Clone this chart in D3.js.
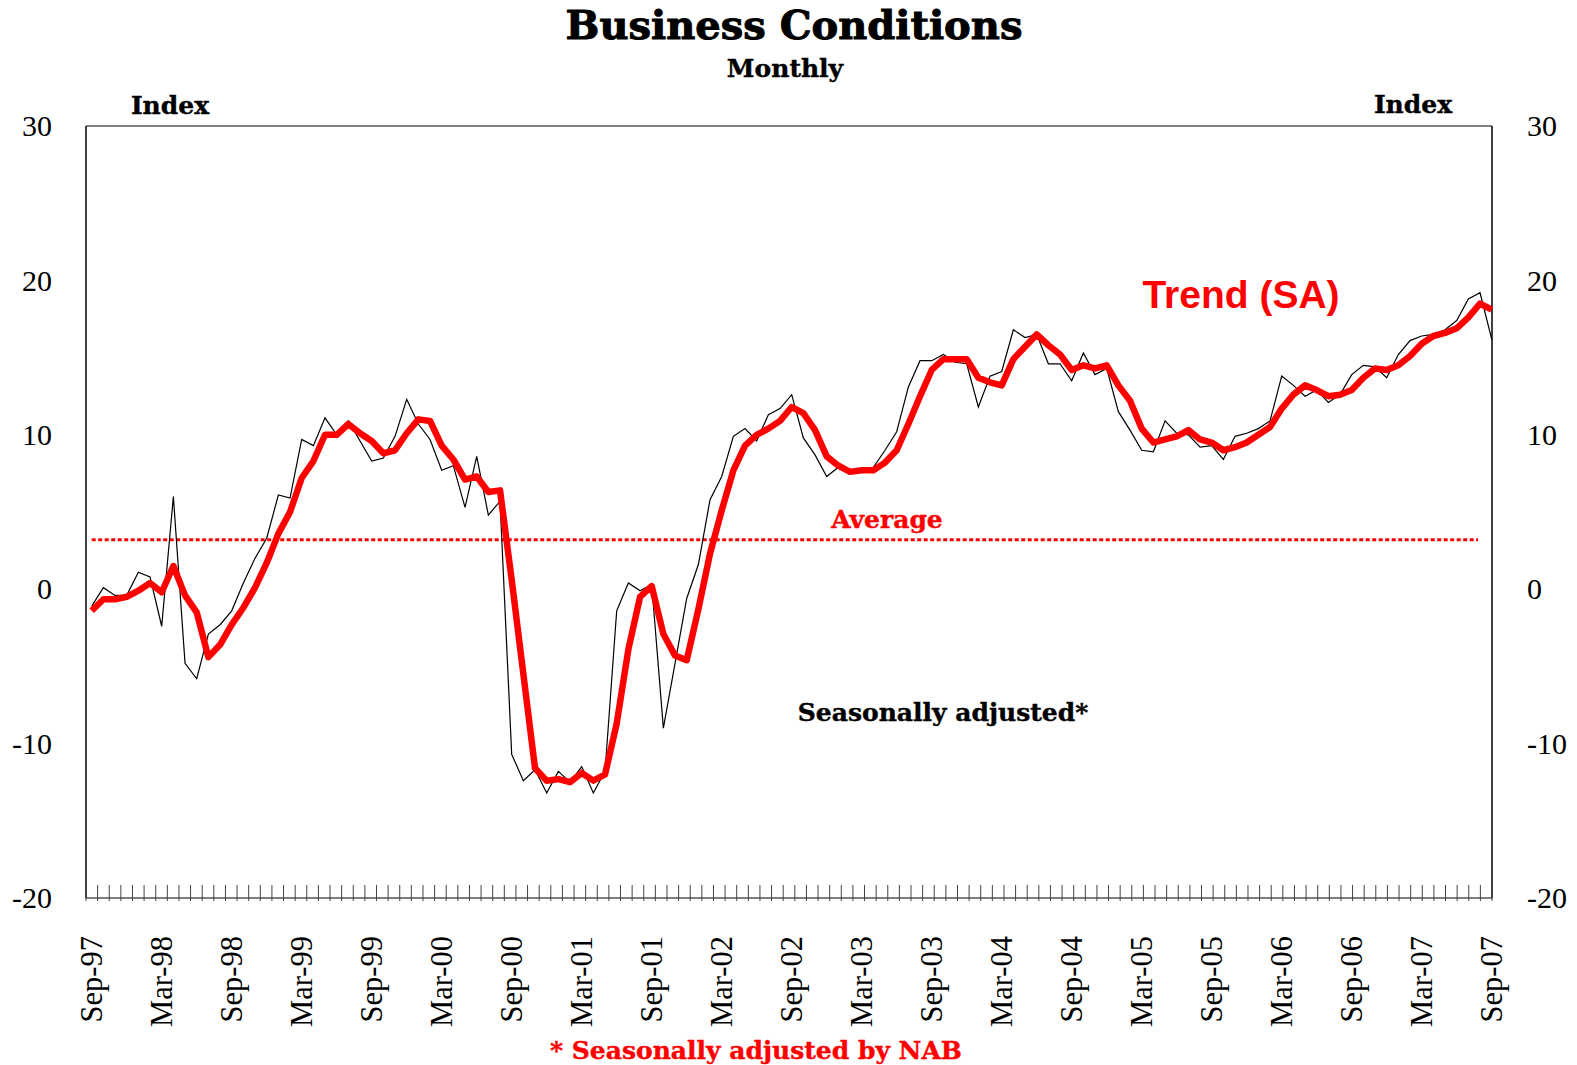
<!DOCTYPE html>
<html>
<head>
<meta charset="utf-8">
<script src="https://cdn.jsdelivr.net/npm/d3@7"></script>
<style>
  body { margin: 0; background: #fff; }
  .slab { font-family: "DejaVu Serif", serif; font-weight: bold; }
  .tick text { font-family: "Liberation Serif", "Times New Roman", serif; }
</style>
</head>
<body>
<svg id="chart" width="1577" height="1065"></svg>
<script>
// monthly readings, Sep-97 .. Sep-07
var start_month = new Date(1997, 8, 1);

var trend = [
  -1.4, -0.65, -0.65, -0.5, -0.1, 0.4, -0.2, 1.5, -0.4, -1.5,
  -4.4, -3.6, -2.3, -1.2, 0.1, 1.7, 3.6, 5.0, 7.2, 8.3,
  10.0, 10.0, 10.7, 10.1, 9.6, 8.8, 9.0, 10.1, 11.0, 10.9,
  9.3, 8.4, 7.1, 7.3, 6.3, 6.4, 0.6, -5.5, -11.6, -12.4,
  -12.3, -12.5, -11.9, -12.4, -12.0, -8.7, -3.9, -0.5, 0.2, -2.9,
  -4.3, -4.6, -1.3, 2.3, 5.1, 7.7, 9.3, 10.0, 10.4, 10.9,
  11.8, 11.4, 10.3, 8.6, 8.0, 7.6, 7.7, 7.7, 8.2, 9.0,
  10.7, 12.5, 14.2, 14.9, 14.9, 14.9, 13.7, 13.4, 13.2, 14.9,
  15.7, 16.5, 15.8, 15.2, 14.2, 14.5, 14.3, 14.5, 13.2, 12.2,
  10.4, 9.5, 9.7, 9.9, 10.3, 9.7, 9.5, 9.0, 9.2, 9.5,
  10.0, 10.5, 11.7, 12.6, 13.2, 12.9, 12.5, 12.6, 12.9, 13.7,
  14.3, 14.2, 14.5, 15.1, 15.9, 16.4, 16.6, 16.9, 17.6, 18.5,
  18.1
];

var seasonal = [
  -1.1, 0.1, -0.4, -0.4, 1.1, 0.8, -2.4, 6.0, -4.8, -5.8,
  -2.9, -2.3, -1.4, 0.4, 2.0, 3.3, 6.1, 5.9, 9.7, 9.3,
  11.1, 10.0, 10.9, 9.6, 8.3, 8.5, 9.9, 12.3, 10.7, 9.7,
  7.7, 8.0, 5.3, 8.6, 4.8, 5.7, -10.7, -12.4, -11.7, -13.2,
  -11.8, -12.5, -11.5, -13.2, -11.8, -1.4, 0.4, -0.1, 0.3, -9.0,
  -4.8, -0.6, 1.6, 5.8, 7.3, 9.9, 10.4, 9.6, 11.3, 11.7,
  12.6, 9.8, 8.7, 7.3, 7.9, 7.7, 7.7, 7.9, 9.0, 10.2,
  13.1, 14.8, 14.8, 15.2, 14.7, 14.6, 11.8, 13.8, 14.1, 16.8,
  16.3, 16.5, 14.6, 14.6, 13.5, 15.3, 13.9, 14.3, 11.5, 10.3,
  9.0, 8.9, 10.9, 10.1, 10.0, 9.2, 9.3, 8.4, 9.9, 10.1,
  10.4, 10.9, 13.8, 13.2, 12.5, 12.9, 12.1, 12.6, 13.9, 14.5,
  14.4, 13.7, 15.2, 16.1, 16.4, 16.5, 16.8, 17.4, 18.8, 19.2,
  16.2
];

var average = 3.2;

var x_labels = ["Sep-97", "Mar-98", "Sep-98", "Mar-99", "Sep-99", "Mar-00", "Sep-00",
  "Mar-01", "Sep-01", "Mar-02", "Sep-02", "Mar-03", "Sep-03", "Mar-04", "Sep-04",
  "Mar-05", "Sep-05", "Mar-06", "Sep-06", "Mar-07", "Sep-07"];

var y_ticks = [-20, -10, 0, 10, 20, 30];

var months = d3.range(trend.length).map(function(i) { return d3.timeMonth.offset(start_month, i); });

var plot_left = 86, plot_right = 1492, plot_top = 126, plot_bottom = 898;

var svg = d3.select("#chart");

var x = d3.scalePoint().domain(d3.range(months.length)).range([91.7, 1491.7]);
var xband = d3.scaleBand().domain(d3.range(months.length)).range([plot_left, plot_right]);
var y = d3.scaleLinear().domain([-20, 30]).range([plot_bottom, plot_top]);

// frame
svg.append("line").attr("x1", plot_left).attr("x2", plot_right).attr("y1", plot_top).attr("y2", plot_top)
  .attr("stroke", "#555").attr("stroke-width", 1.5);
svg.append("line").attr("x1", plot_left).attr("x2", plot_right).attr("y1", plot_bottom).attr("y2", plot_bottom)
  .attr("stroke", "#555").attr("stroke-width", 1.5);
svg.append("line").attr("x1", plot_left).attr("x2", plot_left).attr("y1", plot_top).attr("y2", plot_bottom)
  .attr("stroke", "#000").attr("stroke-width", 1.5);
svg.append("line").attr("x1", plot_right).attr("x2", plot_right).attr("y1", plot_top).attr("y2", plot_bottom)
  .attr("stroke", "#000").attr("stroke-width", 1.5);

// month ticks
var tick_pos = months.map(function(d, i) { return xband(i); }).concat([plot_right]);
svg.append("g").selectAll("line")
  .data(tick_pos)
  .enter().append("line")
  .attr("x1", function(d) { return d; })
  .attr("x2", function(d) { return d; })
  .attr("y1", plot_bottom - 13)
  .attr("y2", plot_bottom + 3)
  .attr("stroke", "#444")
  .attr("stroke-width", 1);

// y axes, both sides (plain hyphen for minus, like the original)
var fmt = function(d) { return String(d); };
var yl = svg.append("g").attr("transform", "translate(" + plot_left + ",0)")
  .call(d3.axisLeft(y).tickValues(y_ticks).tickFormat(fmt).tickSize(0).tickPadding(34));
var yr = svg.append("g").attr("transform", "translate(" + plot_right + ",0)")
  .call(d3.axisRight(y).tickValues(y_ticks).tickFormat(fmt).tickSize(0).tickPadding(35));
[yl, yr].forEach(function(g) {
  g.select(".domain").remove();
  g.selectAll("text").attr("font-size", 30).attr("fill", "#000");
});

// x labels every 6 months
svg.append("g").selectAll("text")
  .data(x_labels)
  .enter().append("text")
  .attr("transform", function(d, i) { return "translate(" + x(i * 6) + ",936) rotate(-90)"; })
  .attr("dy", "0.35em")
  .attr("text-anchor", "end")
  .attr("font-family", "Liberation Serif, Times New Roman, serif")
  .attr("font-size", 30.5)
  .text(function(d) { return d; });

// average
svg.append("line")
  .attr("x1", x(0)).attr("x2", 1478)
  .attr("y1", y(average)).attr("y2", y(average))
  .attr("stroke", "#ff0000").attr("stroke-width", 3)
  .attr("stroke-dasharray", "4,2.5");

var line_sa = d3.line().x(function(d, i) { return x(i); }).y(function(d) { return y(d); });

svg.append("path").datum(seasonal)
  .attr("d", line_sa)
  .attr("fill", "none").attr("stroke", "#000").attr("stroke-width", 1.2);

svg.append("path").datum(trend)
  .attr("d", line_sa)
  .attr("fill", "none").attr("stroke", "#ff0000").attr("stroke-width", 6.5)
  .attr("stroke-linejoin", "round");

// texts
svg.append("text").attr("class", "slab").attr("x", 794).attr("y", 39)
  .attr("text-anchor", "middle").attr("font-size", 40).attr("stroke", "#000").attr("stroke-width", 1)
  .text("Business Conditions");
svg.append("text").attr("class", "slab").attr("x", 785).attr("y", 77)
  .attr("text-anchor", "middle").attr("font-size", 25).attr("stroke", "#000").attr("stroke-width", 0.4)
  .text("Monthly");
svg.append("text").attr("class", "slab").attr("x", 170).attr("y", 114)
  .attr("text-anchor", "middle").attr("font-size", 25).attr("stroke", "#000").attr("stroke-width", 0.4)
  .text("Index");
svg.append("text").attr("class", "slab").attr("x", 1413).attr("y", 113)
  .attr("text-anchor", "middle").attr("font-size", 25).attr("stroke", "#000").attr("stroke-width", 0.4)
  .text("Index");
svg.append("text").attr("x", 1241).attr("y", 308)
  .attr("text-anchor", "middle").attr("font-family", "Liberation Sans, Arial, sans-serif")
  .attr("font-weight", "bold").attr("font-size", 39).attr("fill", "#ff0000").text("Trend (SA)");
svg.append("text").attr("class", "slab").attr("x", 887).attr("y", 528)
  .attr("text-anchor", "middle").attr("font-size", 25).attr("fill", "#ff0000")
  .attr("stroke", "#ff0000").attr("stroke-width", 0.4).text("Average");
svg.append("text").attr("class", "slab").attr("x", 943).attr("y", 721)
  .attr("text-anchor", "middle").attr("font-size", 25).attr("stroke", "#000").attr("stroke-width", 0.4)
  .text("Seasonally adjusted*");
svg.append("text").attr("class", "slab").attr("x", 756).attr("y", 1059)
  .attr("text-anchor", "middle").attr("font-size", 25).attr("fill", "#ff0000")
  .attr("stroke", "#ff0000").attr("stroke-width", 0.4).text("* Seasonally adjusted by NAB");
</script>
</body>
</html>
